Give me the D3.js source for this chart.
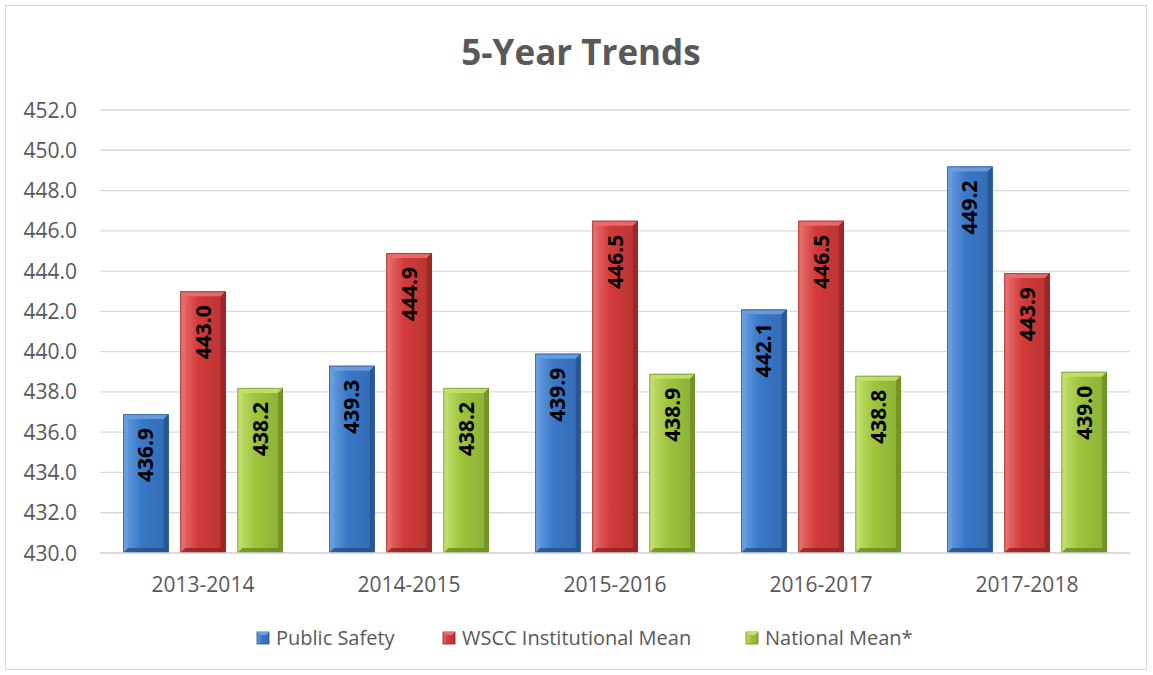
<!DOCTYPE html>
<html>
<head>
<meta charset="utf-8">
<script src="https://cdn.jsdelivr.net/npm/d3@7"></script>
<style>
  body { margin: 0; background: #fff; }
  svg { display: block; font-family: "Open Sans", "Liberation Sans", sans-serif; }
</style>
</head>
<body>
<svg id="graph" width="1153" height="675"></svg>
<script>
// data
const years = ['2013-2014', '2014-2015', '2015-2016', '2016-2017', '2017-2018'];
const seriesNames = ['Public Safety', 'WSCC Institutional Mean', 'National Mean*'];
const publicSafety = [436.9, 439.3, 439.9, 442.1, 449.2];
const wsccMean = [443.0, 444.9, 446.5, 446.5, 443.9];
const nationalMean = [438.2, 438.2, 438.9, 438.8, 439.0];
const yTicks = d3.range(430, 452.1, 2);

const colors = [
    { base: '#3a78c8', light: '#6aa0e0', dark: '#234f8c' },
    { base: '#d23a3a', light: '#e87070', dark: '#8e2222' },
    { base: '#9cc53c', light: '#c3e070', dark: '#6a8a22' }
];

const svg = d3.select('#graph');
const margin = { top: 110, left: 100, right: 23, bottom: 122 };
const width = 1153, height = 675;

// frame
svg.append('rect')
   .attr('x', 5.5).attr('y', 5.5)
   .attr('width', 1141).attr('height', 664)
   .attr('fill', '#fff').attr('stroke', '#d9d9d9');

// gradients
const defs = svg.append('defs');
colors.forEach((c, i) => {
    const g = defs.append('linearGradient').attr('id', 'grad' + i)
        .attr('x1', 0).attr('x2', 1).attr('y1', 0).attr('y2', 0);
    g.append('stop').attr('offset', '0%').attr('stop-color', c.light);
    g.append('stop').attr('offset', '40%').attr('stop-color', c.base);
    g.append('stop').attr('offset', '100%').attr('stop-color', d3.color(c.base).darker(0.35));
});

const xScale = d3.scaleBand()
    .domain(years)
    .range([margin.left, width - margin.right])
    .paddingInner(0).paddingOuter(0);

const xInner = d3.scaleBand()
    .domain(d3.range(3))
    .range([23, xScale.bandwidth() - 23])
    .paddingInner(0.2);

const yScale = d3.scaleLinear()
    .domain([430, 452])
    .range([height - margin.bottom, margin.top]);

// gridlines
svg.append('g')
   .selectAll('line')
   .data(yTicks)
   .join('line')
   .attr('x1', margin.left).attr('x2', width - margin.right)
   .attr('y1', d => yScale(d)).attr('y2', d => yScale(d))
   .attr('stroke', '#d9d9d9').attr('stroke-width', 1.3);

// y labels
svg.append('g')
   .selectAll('text')
   .data(yTicks)
   .join('text')
   .attr('x', 77)
   .attr('y', d => yScale(d))
   .attr('dy', '0.36em')
   .attr('text-anchor', 'end')
   .attr('fill', '#595959')
   .style('font-size', '21px')
   .text(d => d.toFixed(1));

// x labels
svg.append('g')
   .selectAll('text')
   .data(years)
   .join('text')
   .attr('x', d => xScale(d) + xScale.bandwidth() / 2)
   .attr('y', 592)
   .attr('text-anchor', 'middle')
   .attr('fill', '#595959')
   .style('font-size', '21px')
   .text(d => d);

// title
svg.append('text')
   .attr('x', 581).attr('y', 65)
   .attr('text-anchor', 'middle')
   .attr('fill', '#595959')
   .style('font-size', '35px')
   .style('font-weight', 'bold')
   .text('5-Year Trends');

const allSeries = [publicSafety, wsccMean, nationalMean];
const rows = [];
years.forEach((yr, yi) => {
    allSeries.forEach((s, si) => rows.push({ year: yr, si: si, value: s[yi] }));
});

const bev = 5;
const bars = svg.append('g')
   .selectAll('g')
   .data(rows)
   .join('g')
   .attr('transform', d => `translate(${xScale(d.year) + xInner(d.si)},0)`);

const bw = xInner.bandwidth();
const y0 = yScale(430);

bars.append('rect')
    .attr('x', 0).attr('y', d => yScale(d.value))
    .attr('width', bw).attr('height', d => y0 - yScale(d.value))
    .attr('fill', d => `url(#grad${d.si})`);

// bevel: top
bars.append('path')
    .attr('d', d => {
        const t = yScale(d.value);
        return `M0,${t}L${bw},${t}L${bw - bev},${t + bev}L${bev},${t + bev}Z`;
    })
    .attr('fill', d => colors[d.si].light)
    .attr('opacity', 0.9);
// left edge
bars.append('path')
    .attr('d', d => {
        const t = yScale(d.value);
        return `M0,${t}L${bev},${t + bev}L${bev},${y0 - bev}L0,${y0}Z`;
    })
    .attr('fill', d => colors[d.si].light)
    .attr('opacity', 0.55);
// right edge
bars.append('path')
    .attr('d', d => {
        const t = yScale(d.value);
        return `M${bw},${t}L${bw - bev},${t + bev}L${bw - bev},${y0 - bev}L${bw},${y0}Z`;
    })
    .attr('fill', d => colors[d.si].dark)
    .attr('opacity', 0.7);
// bottom edge
bars.append('path')
    .attr('d', `M0,${y0}L${bev},${y0 - bev}L${bw - bev},${y0 - bev}L${bw},${y0}Z`)
    .attr('fill', d => colors[d.si].dark)
    .attr('opacity', 0.8);
// outline
bars.append('rect')
    .attr('x', 0.5).attr('y', d => yScale(d.value) + 0.5)
    .attr('width', bw - 1).attr('height', d => y0 - yScale(d.value) - 1)
    .attr('fill', 'none')
    .attr('stroke', d => colors[d.si].dark)
    .attr('stroke-opacity', 0.6);

// value labels, rotated, inside the top of the bar
bars.append('text')
    .attr('transform', d => `translate(${bw / 2},${yScale(d.value) + 14}) rotate(-90)`)
    .attr('text-anchor', 'end')
    .attr('dy', '0.36em')
    .attr('fill', '#000')
    .style('font-size', '21px')
    .style('font-weight', 'bold')
    .text(d => d.value.toFixed(1));

// baseline
svg.append('line')
   .attr('x1', margin.left).attr('x2', width - margin.right)
   .attr('y1', y0).attr('y2', y0)
   .attr('stroke', '#d9d9d9').attr('stroke-width', 1.3);

// legend
const legendX = [257, 443, 746];
const legend = svg.append('g')
   .selectAll('g')
   .data(seriesNames)
   .join('g')
   .attr('transform', (d, i) => `translate(${legendX[i]},638)`);
legend.append('rect')
   .attr('x', 0).attr('y', -6).attr('width', 12).attr('height', 12)
   .attr('fill', (d, i) => `url(#grad${i})`)
   .attr('stroke', (d, i) => colors[i].dark).attr('stroke-width', 0.8);
legend.append('path')
   .attr('d', 'M0,-6L12,-6L9,-3L3,-3Z')
   .attr('fill', (d, i) => colors[i].light);
legend.append('text')
   .attr('x', 19).attr('y', 0).attr('dy', '0.36em')
   .attr('fill', '#595959')
   .style('font-size', '20px')
   .text(d => d);
</script>
</body>
</html>
